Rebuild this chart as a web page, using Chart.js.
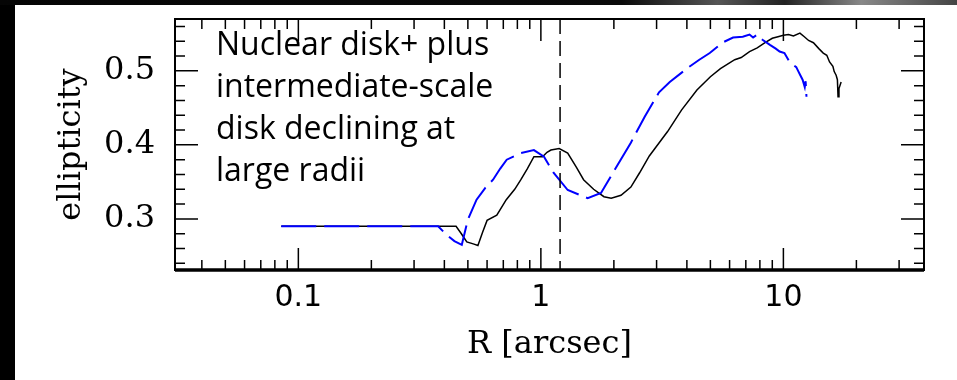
<!DOCTYPE html>
<html>
<head>
<meta charset="utf-8">
<script src="https://cdn.jsdelivr.net/npm/chart.js@4.4.1/dist/chart.umd.min.js"></script>
<style>
  html, body { margin: 0; padding: 0; background: #000; width: 957px; height: 380px; overflow: hidden; }
  #topstrip { position: absolute; left: 0; top: 0; width: 957px; height: 5px;
    background: linear-gradient(90deg, #050505 0%, #0a0a0a 65%, #555 75%, #222 82%, #888 90%, #444 100%); }
  #panel { position: absolute; left: 15px; top: 5px; width: 942px; height: 375px; background: #fff; }
</style>
</head>
<body>
<div id="topstrip"></div>
<div id="panel"><canvas id="ellipChart"></canvas></div>
<script>
// radius [arcsec] and ellipticity, black solid profile
const rBlack = [0.085, 0.12, 0.2, 0.3, 0.40, 0.447, 0.47, 0.495, 0.53, 0.55, 0.575, 0.60, 0.658, 0.72, 0.78,
  0.827, 0.88, 0.936, 1.016, 1.06, 1.10, 1.19, 1.29, 1.40, 1.50, 1.65, 1.82, 1.95, 2.14, 2.35, 2.55, 2.8,
  3.33, 3.8, 4.4, 5.0, 5.5, 6.3, 6.7, 7.25, 7.8, 8.4, 9.0, 9.5, 10, 10.5, 11, 11.7, 12.2, 12.7, 13.3,
  14.0, 14.6, 15.1, 15.5, 16.0, 16.2, 16.5, 16.7, 16.8, 16.95, 17.3];
const eBlack = [0.290, 0.290, 0.290, 0.290, 0.290, 0.290, 0.280, 0.269, 0.266, 0.264, 0.282, 0.298, 0.305, 0.326, 0.340,
  0.353, 0.368, 0.384, 0.384, 0.390, 0.393, 0.395, 0.389, 0.370, 0.353, 0.340, 0.330, 0.328, 0.332, 0.343, 0.362, 0.385,
  0.418, 0.447, 0.474, 0.492, 0.503, 0.515, 0.518, 0.526, 0.531, 0.538, 0.544, 0.546, 0.548, 0.549, 0.547, 0.551, 0.546, 0.541, 0.538,
  0.530, 0.524, 0.521, 0.512, 0.506, 0.499, 0.494, 0.488, 0.465, 0.476, 0.485];

// blue dashed profile
const rBlue = [0.085, 0.2, 0.377, 0.41, 0.44, 0.472, 0.50, 0.543, 0.59, 0.635, 0.68, 0.723, 0.827, 0.936, 1.03,
  1.13, 1.29, 1.56, 1.77, 1.98, 2.35, 2.68, 3.07, 3.4, 4.07, 4.5, 4.97, 5.6, 6.2, 6.8, 7.25, 7.5, 7.8, 8.2,
  8.8, 9.3, 9.65, 10.1, 10.6, 11.3, 11.5, 11.7, 12.0, 12.25, 12.35, 12.45];
const eBlue = [0.290, 0.290, 0.290, 0.278, 0.270, 0.265, 0.299, 0.326, 0.342, 0.353, 0.368, 0.380, 0.389, 0.393, 0.384,
  0.362, 0.339, 0.328, 0.335, 0.362, 0.403, 0.438, 0.471, 0.485, 0.505, 0.515, 0.524, 0.538, 0.545, 0.546, 0.549, 0.545, 0.549, 0.542,
  0.535, 0.530, 0.526, 0.524, 0.512, 0.505, 0.500, 0.495, 0.488, 0.478, 0.486, 0.465];

const xMajor = [0.1, 1, 10];
const xMinor = [0.04, 0.05, 0.06, 0.07, 0.08, 0.09, 0.2, 0.3, 0.4, 0.5, 0.6, 0.7, 0.8, 0.9,
  2, 3, 4, 5, 6, 7, 8, 9, 20, 30];
const yMajor = [0.3, 0.4, 0.5];
const yMinor = [0.24, 0.26, 0.28, 0.32, 0.34, 0.36, 0.38, 0.42, 0.44, 0.46, 0.48, 0.52, 0.54, 0.56];
const markerR = 1.2;
const noteLines = ['Nuclear disk+ plus', 'intermediate-scale', 'disk declining at', 'large radii'];

const toPts = (xs, ys) => xs.map((x, i) => ({x: x, y: ys[i]}));

const frameTicks = {
  id: 'frameTicks',
  afterDatasetsDraw(chart) {
    const {ctx, chartArea: a, scales: {x, y}} = chart;
    ctx.save();
    ctx.strokeStyle = '#000';
    // vertical dashed marker
    ctx.lineWidth = 1.5;
    ctx.setLineDash([15, 7]);
    const mx = x.getPixelForValue(markerR);
    ctx.beginPath(); ctx.moveTo(mx, a.top); ctx.lineTo(mx, a.bottom); ctx.stroke();
    ctx.setLineDash([]);
    // ticks on all four sides, pointing inwards
    ctx.lineWidth = 1.5;
    ctx.beginPath();
    const tx = (v, len) => {
      const p = x.getPixelForValue(v);
      ctx.moveTo(p, a.bottom); ctx.lineTo(p, a.bottom - len);
      ctx.moveTo(p, a.top); ctx.lineTo(p, a.top + len);
    };
    const ty = (v, len) => {
      const p = y.getPixelForValue(v);
      ctx.moveTo(a.left, p); ctx.lineTo(a.left + len, p);
      ctx.moveTo(a.right, p); ctx.lineTo(a.right - len, p);
    };
    xMajor.forEach(v => tx(v, 22));
    xMinor.forEach(v => tx(v, 10));
    yMajor.forEach(v => ty(v, 23));
    yMinor.forEach(v => ty(v, 10));
    ctx.stroke();
    // frame
    ctx.lineWidth = 2;
    ctx.strokeRect(a.left, a.top, a.right - a.left, a.bottom - a.top);
    ctx.lineWidth = 3.5;
    ctx.beginPath(); ctx.moveTo(a.left, a.bottom); ctx.lineTo(a.right, a.bottom); ctx.stroke();
    // annotation
    ctx.fillStyle = '#000';
    ctx.font = '32px "Open Sans"';
    ctx.textBaseline = 'alphabetic';
    noteLines.forEach((t, i) => ctx.fillText(t, a.left + 41, a.top + 36 + i * 42));
    ctx.restore();
  }
};

new Chart(document.getElementById('ellipChart').getContext('2d'), {
  type: 'scatter',
  data: {
    datasets: [{
      label: 'blue',
      data: toPts(rBlue, eBlue),
      showLine: true,
      borderColor: '#0000ff',
      borderWidth: 2,
      borderDash: [35, 8],
      pointRadius: 0,
      tension: 0
    }, {
      label: 'black',
      data: toPts(rBlack, eBlack),
      showLine: true,
      borderColor: '#000',
      borderWidth: 1.5,
      pointRadius: 0,
      tension: 0
    }]
  },
  options: {
    responsive: true,
    maintainAspectRatio: false,
    animation: false,
    layout: { padding: { left: 0, top: 14, right: 33, bottom: 0 } },
    plugins: { legend: { display: false }, tooltip: { enabled: false } },
    scales: {
      x: {
        type: 'logarithmic',
        min: 0.031, max: 38,
        afterBuildTicks: s => { s.ticks = xMajor.map(v => ({value: v})); },
        afterFit: s => { s.height = 110; s.paddingLeft = 0; s.paddingRight = 0; },
        grid: { display: false, drawTicks: false },
        border: { display: false },
        ticks: {
          autoSkip: false, maxRotation: 0, padding: 10, color: '#000',
          font: { family: '"DejaVu Sans"', size: 30 },
          callback: v => String(v)
        },
        title: {
          display: true, text: 'R [arcsec]', color: '#000',
          font: { family: '"DejaVu Serif"', size: 32 },
          padding: { top: 0, bottom: 16 }
        }
      },
      y: {
        min: 0.231, max: 0.570,
        afterBuildTicks: s => { s.ticks = yMajor.map(v => ({value: v})); },
        afterFit: s => { s.width = 160; s.paddingTop = 0; s.paddingBottom = 0; },
        grid: { display: false, drawTicks: false },
        border: { display: false },
        ticks: {
          padding: 20, color: '#000',
          font: { family: '"DejaVu Serif"', size: 32 },
          callback: v => v.toFixed(1)
        },
        title: {
          display: true, text: 'ellipticity', color: '#000',
          font: { family: '"DejaVu Serif"', size: 32 },
          padding: { top: 37, bottom: 0 }
        }
      }
    }
  },
  plugins: [frameTicks]
});
</script>
</body>
</html>
